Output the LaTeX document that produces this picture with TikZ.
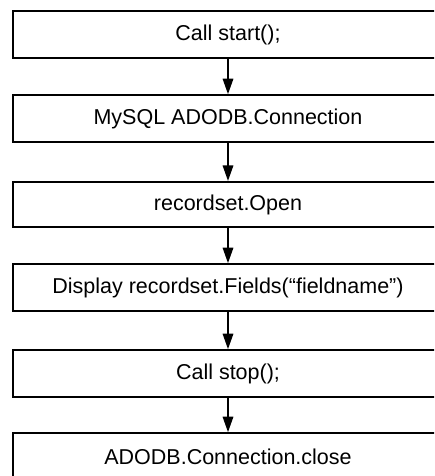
\documentclass[tikz,border=0pt]{standalone}
\usepackage{fontspec}
\setmainfont{Liberation Sans}
\usetikzlibrary{arrows.meta}
\begin{document}
\begin{tikzpicture}[x=1pt,y=-1pt,
  stepbox/.style={draw=black,line width=1.6pt,fill=white,minimum width=430.5pt,minimum height=47pt,inner sep=0pt,
    font=\fontsize{21.5}{24}\selectfont},
  flow/.style={line width=1.6pt,-{Triangle[width=10.5pt,length=15.5pt]}}]
\useasboundingbox (0,0) rectangle (434,476);
\clip (0,0) rectangle (434,476);
\fill[white] (0,0) rectangle (434,476);
\node[stepbox] (b1) at (228,34.5) {Call start();};
\node[stepbox] (b2) at (228,118.5) {MySQL ADODB.Connection};
\node[stepbox,minimum height=45.5pt] (b3) at (228,204.5) {recordset.Open};
\node[stepbox] (b4) at (228,287.5) {Display recordset.Fields(“fieldname”)};
\node[stepbox] (b5) at (228,373.5) {Call stop();};
\node[stepbox] (b6) at (228,456.5) {ADODB.Connection.close};
\draw[flow] (b1) -- (b2);
\draw[flow] (b2) -- (b3);
\draw[flow] (b3) -- (b4);
\draw[flow] (b4) -- (b5);
\draw[flow] (b5) -- (b6);
\end{tikzpicture}
\end{document}
